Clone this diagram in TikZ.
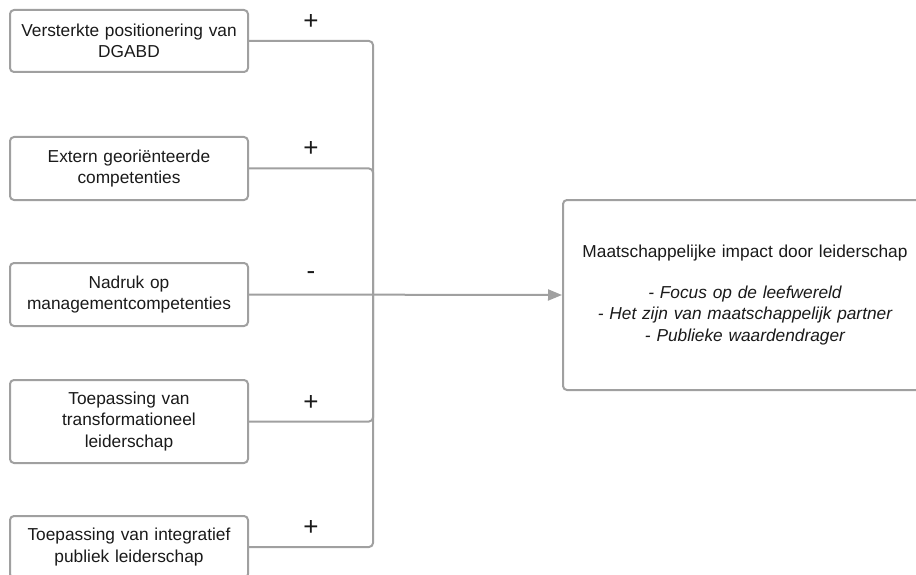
\documentclass[tikz,border=0pt]{standalone}
\usepackage{fontspec}
\setmainfont{Liberation Sans}
\usetikzlibrary{arrows.meta}
\definecolor{edge}{HTML}{A0A0A0}
\definecolor{txt}{HTML}{1A1A1A}
\begin{document}
\begin{tikzpicture}[x=1pt,y=-1pt,
  box/.style={draw=edge, line width=2pt, rounded corners=4pt, fill=white,
    minimum width=238pt, text width=236pt, align=center, inner sep=0pt,
    font=\fontsize{17.3}{21.5}\selectfont, text=txt},
  conn/.style={draw=edge, line width=2pt, rounded corners=4pt},
  sign/.style={font=\fontsize{26}{28}\selectfont, text=txt},
  ]
\useasboundingbox (0,0) rectangle (916,575);
\node[box, minimum height=62pt] (b1) at (129,41) {Versterkte positionering van\\DGABD};
\node[box, minimum height=63pt] (b2) at (129,168.5) {Extern georiënteerde\\competenties};
\node[box, minimum height=63pt] (b3) at (129,294.5) {Nadruk op\\managementcompetenties};
\node[box, minimum height=83pt] (b4) at (129,421.5) {Toepassing van\\transformationeel\\leiderschap};
\node[box, minimum height=62pt] (b5) at (129,547) {Toepassing van integratief\\publiek leiderschap};
\node[box, minimum width=364pt, minimum height=190pt, text width=360pt] (out) at (745,295)
  {Maatschappelijke impact door leiderschap\\[19pt]
   \itshape - Focus op de leefwereld\\
   \itshape - Het zijn van maatschappelijk partner\\
   \itshape - Publieke waardendrager};
\coordinate (j) at (373,295);
\draw[conn] (b1.east) -| (j);
\draw[conn] (b2.east) -| (j);
\draw[conn] (b4.east) -| (j);
\draw[conn] (b5.east) -| (j);
\draw[draw=edge, line width=2pt, -{Triangle[length=14pt,width=11pt,fill=edge]}] (b3.east) -- (out.west);
\node[sign] (s1) at (311,22) {+};
\node[sign] (s2) at (311,149) {+};
\node[sign] (s3) at (311,276) {-};
\node[sign] (s4) at (311,403) {+};
\node[sign] (s5) at (311,528) {+};
\end{tikzpicture}
\end{document}
